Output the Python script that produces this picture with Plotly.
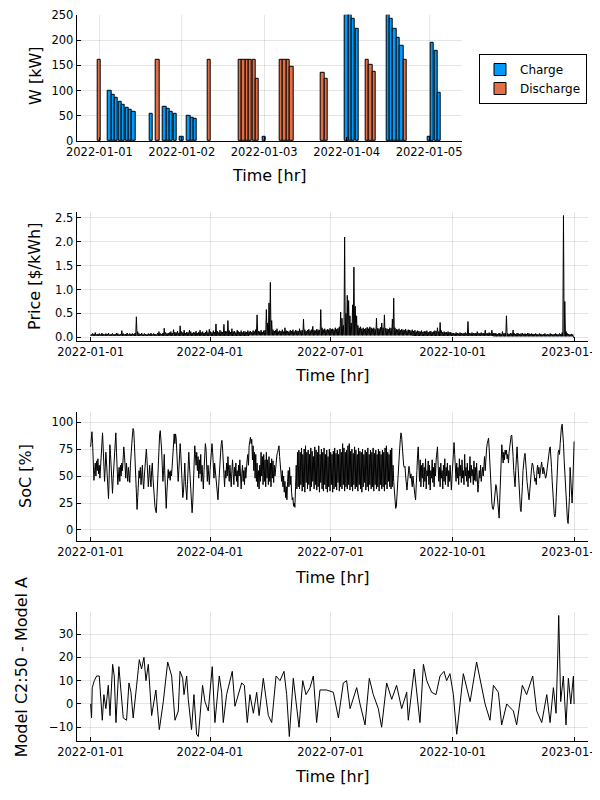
import pandas as pd
import plotly.graph_objects as go
from plotly.subplots import make_subplots

start = pd.Timestamp("2022-01-01")

# --- panel 1: charge / discharge power, first days (hours after start) ---
charge_hours = [3, 4, 5, 6, 7, 8, 9, 10, 15, 19, 20, 21, 22, 24, 26, 27, 28, 48,
                72, 73, 74, 75, 84, 85, 86, 87, 88, 96, 97, 98, 99]
charge_kw = [100, 92, 85, 78, 72, 66, 62, 57, 53, 68, 63, 58, 53, 9, 50, 46, 43, 9,
             250, 250, 242, 223, 250, 242, 223, 205, 189, 9, 194, 178, 95]
discharge_hours = [0, 17, 32, 41, 42, 43, 44, 45, 46, 53, 54, 55, 56, 65, 66,
                   78, 79, 80, 89]
discharge_kw = [160, 160, 160, 160, 160, 160, 160, 160, 123, 160, 160, 160, 147,
                135, 124, 160, 150, 138, 160]
day_ticks = ["2022-01-01", "2022-01-02", "2022-01-03", "2022-01-04", "2022-01-05"]

# --- panel 2: price, daily high per day and monthly floor ---
price_hi = [
    0.06, 0.08, 0.07, 0.10, 0.06, 0.07, 0.08, 0.06, 0.09, 0.07, 0.06, 0.08, 0.07, 0.09, 0.06, 0.07,
    0.08, 0.06, 0.07, 0.09, 0.08, 0.06, 0.07, 0.14, 0.08, 0.06, 0.07, 0.09, 0.06, 0.08, 0.07,
    0.08, 0.07, 0.09, 0.43, 0.12, 0.08, 0.07, 0.09, 0.06, 0.08, 0.07, 0.06, 0.08, 0.07, 0.09, 0.06,
    0.08, 0.07, 0.06, 0.09, 0.12, 0.08, 0.07, 0.09, 0.19, 0.10, 0.08, 0.09,
    0.10, 0.12, 0.09, 0.16, 0.11, 0.10, 0.13, 0.09, 0.24, 0.12, 0.10, 0.15, 0.09, 0.11, 0.10, 0.15,
    0.12, 0.09, 0.11, 0.10, 0.13, 0.09, 0.11, 0.15, 0.10, 0.12, 0.09, 0.11, 0.14, 0.10, 0.17,
    0.12, 0.10, 0.14, 0.11, 0.28, 0.13, 0.10, 0.15, 0.12, 0.11, 0.27, 0.13, 0.12, 0.35, 0.14, 0.11,
    0.18, 0.12, 0.13, 0.10, 0.15, 0.12, 0.11, 0.14, 0.10, 0.13, 0.12, 0.11, 0.14, 0.12,
    0.13, 0.11, 0.14, 0.12, 0.16, 0.47, 0.13, 0.12, 0.15, 0.11, 0.14, 0.15, 0.58, 0.30, 0.72, 1.15,
    0.35, 0.16, 0.13, 0.15, 0.18, 0.12, 0.14, 0.13, 0.16, 0.12, 0.20, 0.14, 0.13, 0.12, 0.15,
    0.13, 0.16, 0.12, 0.15, 0.14, 0.13, 0.18, 0.14, 0.15, 0.38, 0.16, 0.13, 0.15, 0.17, 0.14, 0.16,
    0.23, 0.15, 0.14, 0.17, 0.16, 0.15, 0.58, 0.20, 0.16, 0.18, 0.15, 0.17, 0.16, 0.19,
    0.17, 0.18, 0.16, 0.20, 0.17, 0.19, 0.22, 0.53, 0.40, 0.25, 2.10, 0.50, 0.88, 0.77, 0.45, 0.30,
    0.68, 1.47, 0.65, 0.45, 0.25, 0.20, 0.22, 0.18, 0.20, 0.17, 0.19, 0.21, 0.18, 0.22, 0.20,
    0.18, 0.20, 0.17, 0.40, 0.19, 0.18, 0.21, 0.30, 0.20, 0.47, 0.19, 0.18, 0.17, 0.20, 0.19, 0.38,
    0.82, 0.20, 0.17, 0.16, 0.18, 0.15, 0.17, 0.16, 0.15, 0.17, 0.14, 0.16, 0.15, 0.14, 0.16,
    0.13, 0.15, 0.12, 0.14, 0.13, 0.12, 0.14, 0.11, 0.13, 0.12, 0.14, 0.11, 0.12, 0.13, 0.11, 0.12,
    0.14, 0.13, 0.20, 0.12, 0.31, 0.14, 0.11, 0.12, 0.10, 0.11, 0.12, 0.10, 0.11, 0.09,
    0.09, 0.08, 0.10, 0.09, 0.08, 0.10, 0.09, 0.08, 0.09, 0.10, 0.08, 0.33, 0.09, 0.08, 0.10, 0.09,
    0.08, 0.09, 0.12, 0.08, 0.09, 0.10, 0.08, 0.09, 0.15, 0.08, 0.09, 0.10, 0.08, 0.15, 0.09,
    0.08, 0.09, 0.07, 0.08, 0.09, 0.07, 0.12, 0.08, 0.09, 0.45, 0.08, 0.07, 0.09, 0.08, 0.15, 0.08,
    0.07, 0.09, 0.08, 0.07, 0.08, 0.09, 0.07, 0.08, 0.07, 0.09, 0.08, 0.07, 0.08, 0.07,
    0.07, 0.08, 0.07, 0.06, 0.08, 0.07, 0.06, 0.07, 0.08, 0.06, 0.07, 0.06, 0.08, 0.07, 0.06, 0.07,
    0.08, 0.07, 0.06, 0.08, 0.07, 0.10, 2.55, 0.75, 0.12, 0.08, 0.07, 0.06, 0.07, 0.06, 0.00,
]
price_lo_month = [0.03, 0.03, 0.03, 0.03, 0.04, 0.04, 0.04, 0.04, 0.03, 0.03, 0.02, 0.02]

# --- panel 3: state of charge, every 12 hours ---
soc = [
    77, 85, 91, 80, 60, 46, 55, 62, 50, 64, 55, 66, 52, 60, 48, 62, 75, 88, 90, 75,
    55, 45, 58, 72, 62, 48, 35, 29, 50, 79, 70, 52, 40, 34, 48, 60, 75, 86, 90, 72,
    55, 42, 50, 58, 45, 60, 50, 62, 55, 68, 77, 70, 55, 48, 62, 55, 45, 58, 50, 44,
    60, 72, 80, 88, 94, 92, 80, 60, 40, 25, 19, 30, 45, 55, 48, 58, 42, 52, 60, 45,
    38, 50, 62, 70, 75, 65, 50, 40, 50, 60, 48, 40, 55, 62, 48, 35, 28, 22, 18, 16,
    30, 50, 68, 80, 88, 92, 85, 75, 60, 45, 55, 70, 50, 30, 20, 35, 50, 56, 48, 54,
    46, 55, 50, 62, 75, 85, 89, 80, 89, 85, 70, 58, 45, 55, 68, 80, 70, 50, 38, 30,
    35, 50, 62, 45, 30, 28, 42, 58, 72, 60, 45, 30, 20, 16, 25, 45, 65, 78, 70, 60,
    72, 55, 68, 48, 65, 52, 70, 45, 60, 50, 38, 55, 70, 80, 75, 58, 45, 60, 52, 42,
    55, 68, 75, 80, 72, 58, 48, 62, 55, 45, 38, 30, 28, 40, 55, 65, 72, 80, 83, 75,
    60, 50, 40, 55, 48, 62, 50, 68, 55, 45, 60, 50, 40, 55, 65, 52, 42, 58, 50, 62,
    45, 55, 40, 60, 50, 65, 45, 38, 52, 60, 45, 55, 42, 58, 48, 62, 65, 70, 60, 78,
    82, 86, 80, 84, 65, 78, 55, 72, 48, 70, 45, 62, 40, 55, 38, 60, 45, 72, 50, 68,
    42, 70, 45, 65, 40, 72, 48, 65, 42, 68, 45, 62, 40, 66, 48, 64, 44, 60, 50, 58,
    62, 70, 72, 74, 78, 68, 60, 50, 45, 55, 40, 50, 35, 45, 30, 40, 28, 45, 55, 40,
    58, 42, 50, 35, 28, 30, 22, 25, 21, 40, 60, 38, 72, 40, 74, 38, 72, 42, 76, 36,
    70, 40, 75, 35, 78, 44, 72, 38, 74, 42, 70, 36, 76, 40, 73, 45, 68, 38, 77, 42,
    74, 37, 72, 40, 78, 35, 70, 44, 75, 38, 72, 36, 76, 42, 70, 38, 74, 35, 68, 40,
    75, 36, 72, 42, 70, 35, 73, 38, 76, 40, 71, 37, 74, 44, 70, 36, 75, 40, 72, 38,
    80, 42, 76, 36, 72, 40, 74, 38, 78, 42, 80, 37, 73, 40, 75, 36, 71, 42, 77, 38,
    74, 40, 70, 36, 76, 42, 73, 38, 72, 35, 75, 40, 70, 44, 74, 37, 72, 40, 76, 36,
    70, 42, 74, 38, 72, 40, 76, 36, 71, 42, 74, 38, 70, 40, 75, 36, 73, 42, 70, 38,
    74, 40, 72, 36, 76, 42, 78, 38, 72, 45, 70, 40, 74, 38, 76, 40, 60, 45, 35, 28,
    20, 22, 35, 45, 55, 68, 75, 84, 90, 86, 75, 65, 60, 58, 59, 50, 40, 37, 45, 52,
    59, 55, 48, 52, 45, 40, 50, 42, 35, 32, 28, 38, 55, 70, 77, 60, 45, 65, 40, 60,
    48, 62, 40, 58, 45, 66, 38, 55, 50, 64, 42, 60, 37, 55, 48, 65, 44, 58, 40, 62,
    50, 65, 72, 77, 60, 45, 58, 40, 62, 48, 55, 38, 60, 45, 66, 42, 58, 50, 62, 40,
    55, 45, 60, 40, 37, 50, 62, 72, 81, 70, 55, 45, 62, 48, 58, 42, 66, 50, 60, 44,
    65, 48, 55, 42, 70, 50, 58, 45, 62, 40, 55, 48, 68, 44, 60, 50, 56, 42, 64, 46,
    58, 45, 62, 40, 35, 42, 55, 48, 60, 45, 52, 58, 50, 62, 68, 55, 70, 75, 80, 84,
    85, 75, 60, 45, 32, 25, 20, 19, 22, 30, 38, 42, 40, 30, 20, 14, 11, 30, 55, 72,
    79, 70, 62, 72, 65, 74, 70, 74, 66, 70, 62, 72, 78, 84, 87, 88, 80, 68, 55, 45,
    40, 55, 72, 77, 65, 50, 38, 28, 20, 17, 25, 40, 55, 65, 68, 71, 65, 55, 45, 38,
    32, 28, 35, 45, 52, 58, 62, 60, 55, 50, 45, 48, 42, 55, 60, 52, 58, 48, 55, 60,
    63, 58, 52, 58, 55, 50, 48, 50, 56, 62, 68, 72, 75, 77, 70, 58, 45, 32, 22, 15,
    12, 15, 30, 50, 65, 72, 74, 70, 80, 90, 96, 98, 92, 80, 65, 52, 40, 28, 15, 9,
    6, 15, 30, 58, 45, 35, 25, 40, 60, 82,
]

# --- panel 4: model difference, turning points (day of year, value) ---
diff_day = [0, 0.7, 1.2, 2.8, 4.5, 6.5, 8.8, 10, 11.5, 13.3, 14.6, 16.6, 17.8, 19.1, 21.3,
            23.1, 24.6, 27.1, 28.9, 30.4, 32.1, 34.7, 36.7, 38.4, 40.2, 41.7, 43.5, 46,
            49.2, 51.8, 54.8, 58.1, 61.1, 63.6, 66.1, 67.4, 69.4, 70.4, 72.4, 73.6, 76.1,
            77.9, 79.9, 81.2, 84.4, 86.2, 88.7, 91.7, 93.7, 97, 98.8, 100, 102.5, 106.8,
            108.8, 113.9, 115.9, 118.1, 120.1, 122.7, 125.2, 127, 130.2, 134, 136.5, 139.8,
            142.8, 145.8, 147.8, 149.8, 152.8, 157.1, 159.9, 162.4, 165.4, 167.9, 170.4,
            172.9, 177.9, 183, 186.8, 190.5, 193, 195.6, 200.6, 203.1, 206.9, 210.1, 213.1,
            216.9, 219.4, 223.2, 227, 230.7, 234.5, 238.3, 239.5, 244, 248.3, 250.9, 253.4,
            257.1, 260.4, 263.4, 266.4, 268.4, 270.9, 273.5, 276, 281, 286.1, 291, 293.6,
            297.4, 301.1, 303.7, 307.4, 309.9, 313.7, 318.7, 321.2, 325.5, 328.7, 333.3,
            336.3, 340.1, 343.9, 346.4, 348.9, 350.9, 352.2, 352.9, 354.4, 356.4, 358.4,
            360.2, 362, 364, 364.5]
diff_val = [0, -6, 7, 10, 12, 12, -7, 4, -2, 8, -5, 17, 12, -8, 16,
            2, -6, -7, 9, 5, -6, 8, 19, 15, 20, 10, 17, -5,
            6, -11, 1, 18, 12, -7, -3, 14, 11, 4, 12, 2, -11,
            4, -13, -14, 8, 1, -3, 16, -8, 12, 5, -8, 4, 14,
            -1, 9, 8, -8, 4, -4, 5, -5, 11, -5, -8, 12,
            10, 14, 4, -14, 11, -10, 10, 4, 7, 12, -8,
            6, 6, 5, -6, 9, 10, -2, 7, 0, -9, 11, 4,
            -2, -10, 9, 2, 8, -2, 5, -7, 15, -8, 17, 10,
            5, 4, 12, 14, 10, 13, 4, -13, 13, 1, 18, 10,
            0, -7, 8, 5, -9, 0, -3, -9, 8, 4, 12,
            -3, -8, 4, -8, 7, -4, 21, 38, 1, 12, -9,
            11, 0, 12, 0]

year_ticks = ["2022-01-01", "2022-04-01", "2022-07-01", "2022-10-01", "2023-01-01"]

# ---------------------------------------------------------------------------
charge_x = [start + pd.Timedelta(hours=h) for h in charge_hours]
discharge_x = [start + pd.Timedelta(hours=h) for h in discharge_hours]

price_x, price_y = [], []
for d, hi in enumerate(price_hi):
    t = start + pd.Timedelta(days=d)
    lo = min(price_lo_month[t.month - 1], hi)
    price_x += [t, t + pd.Timedelta(hours=12)]
    price_y += [lo, hi]

soc_x = [start + pd.Timedelta(hours=12 * i) for i in range(len(soc))]
diff_x = [start + pd.Timedelta(days=d) for d in diff_day]

fig = make_subplots(rows=4, cols=1)

bar_w = 3600 * 1000 * 0.95
fig.add_trace(go.Bar(x=charge_x, y=charge_kw, name="Charge", width=bar_w,
                     marker=dict(color="#009afa", line=dict(color="black", width=1))),
              row=1, col=1)
fig.add_trace(go.Bar(x=discharge_x, y=discharge_kw, name="Discharge", width=bar_w,
                     marker=dict(color="#e26f46", line=dict(color="black", width=1))),
              row=1, col=1)
fig.add_trace(go.Scatter(x=price_x, y=price_y, mode="lines", showlegend=False,
                         line=dict(color="black", width=1)), row=2, col=1)
fig.add_trace(go.Scatter(x=soc_x, y=soc, mode="lines", showlegend=False,
                         line=dict(color="black", width=1)), row=3, col=1)
fig.add_trace(go.Scatter(x=diff_x, y=diff_val, mode="lines", showlegend=False,
                         line=dict(color="black", width=1)), row=4, col=1)

font = "DejaVu Sans"
tickfont = dict(family=font, size=11.5, color="black")
axis_common = dict(showline=True, linecolor="black", linewidth=1, mirror=False,
                   ticks="inside", ticklen=4, tickcolor="black", showgrid=True,
                   gridcolor="rgba(0,0,0,0.1)", gridwidth=1, zeroline=False,
                   tickfont=tickfont, automargin=False, ticklabeloverflow="allow")

# the page adds an 8 px body margin, so domains are shifted by it
year_range = [start - pd.Timedelta(days=10.5), start + pd.Timedelta(days=375)]
fig.update_layout(
    xaxis=dict(domain=[0.1145, 0.7567], type="date",
               range=[start - pd.Timedelta(hours=6.6), start + pd.Timedelta(hours=105.6)],
               tickvals=day_ticks, ticktext=day_ticks, **axis_common),
    yaxis=dict(domain=[0.83375, 0.9915], range=[0, 250],
               tickvals=[0, 50, 100, 150, 200, 250], **axis_common),
    xaxis2=dict(domain=[0.1145, 0.9667], type="date", range=year_range,
                tickvals=year_ticks, ticktext=year_ticks, **axis_common),
    yaxis2=dict(domain=[0.58375, 0.7454], range=[-0.077, 2.63],
                tickvals=[0, 0.5, 1, 1.5, 2, 2.5], tickformat=".1f", **axis_common),
    xaxis3=dict(domain=[0.1145, 0.9667], type="date", range=year_range,
                tickvals=year_ticks, ticktext=year_ticks, **axis_common),
    yaxis3=dict(domain=[0.33375, 0.4954], range=[-10.2, 109.6],
                tickvals=[0, 25, 50, 75, 100], **axis_common),
    xaxis4=dict(domain=[0.1145, 0.9667], type="date", range=year_range,
                tickvals=year_ticks, ticktext=year_ticks, **axis_common),
    yaxis4=dict(domain=[0.08375, 0.2454], range=[-15.9, 39.6],
                tickvals=[-10, 0, 10, 20, 30], **axis_common),
    barmode="overlay",
    bargap=0,
    width=600, height=800,
    margin=dict(l=0, r=0, t=0, b=0),
    paper_bgcolor="white", plot_bgcolor="white",
    font=dict(family=font, color="black"),
    legend=dict(x=0.785, y=0.9425, xanchor="left", yanchor="top",
                bordercolor="black", borderwidth=1, bgcolor="white",
                font=dict(family=font, size=12), tracegroupgap=0),
)

xt = [(0.435, 0.79125), (0.54, 0.54125), (0.54, 0.28875), (0.54, 0.04)]
for x, y in xt:
    fig.add_annotation(text="Time [hr]", x=x, y=y, xref="paper", yref="paper",
                       xanchor="center", yanchor="middle",
                       showarrow=False, font=dict(family=font, size=16))
yt = [("W [kW]", 0.0467, 0.915), ("Price [$/kWh]", 0.0433, 0.665),
      ("SoC [%]", 0.0283, 0.415), ("Model C2:50 - Model A", 0.0217, 0.176)]
for label, x, y in yt:
    fig.add_annotation(text=label, x=x, y=y, xref="paper", yref="paper",
                       xanchor="center", yanchor="middle", textangle=-90,
                       showarrow=False, font=dict(family=font, size=16))

fig.write_html("out.html")
